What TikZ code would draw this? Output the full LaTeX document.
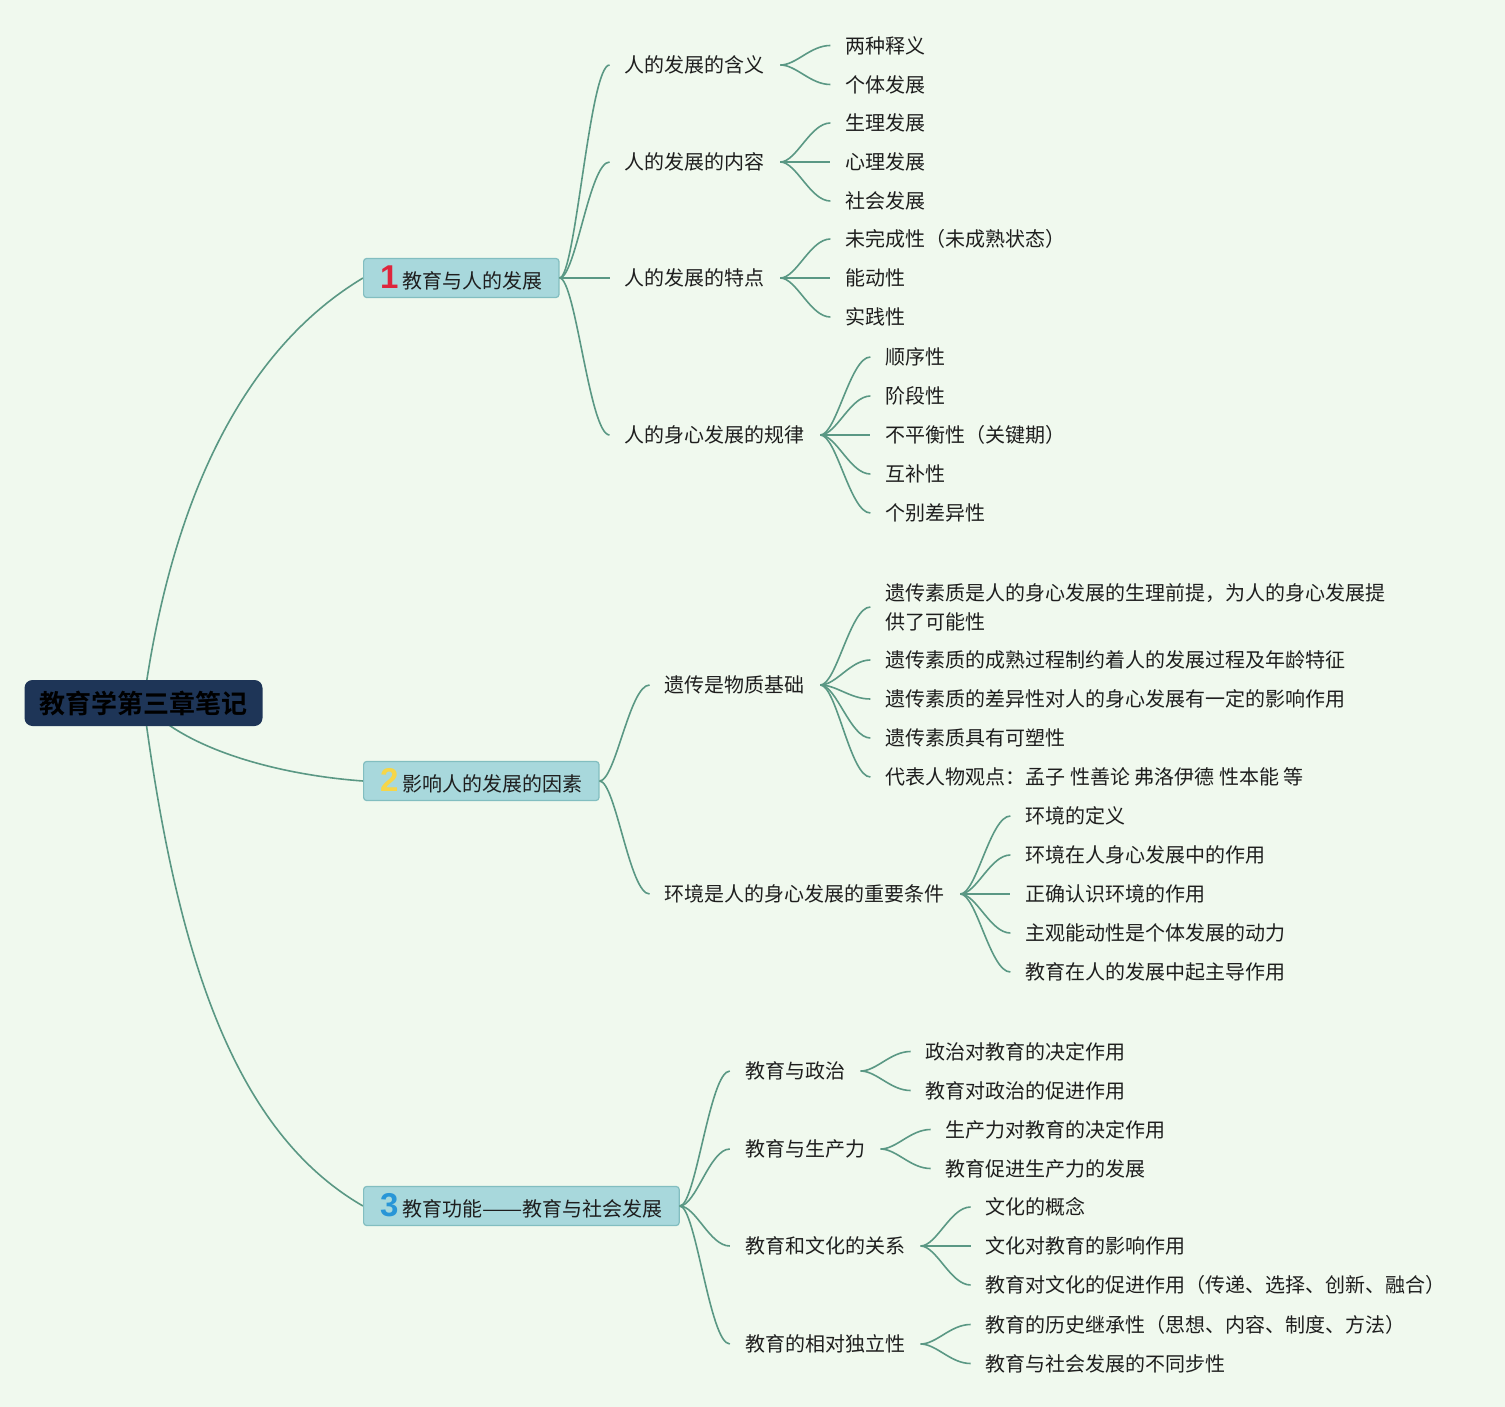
\documentclass[tikz,border=0pt]{standalone}
\usepackage{fontspec}
\usepackage{graphicx}
\setmainfont{Noto Sans CJK SC}[BoldFont={Noto Sans CJK SC Bold}]
\newfontfamily\numfont{Liberation Sans}
\usetikzlibrary{positioning, backgrounds}

\definecolor{bgc}{RGB}{240,249,238}
\definecolor{linec}{RGB}{90,152,132}
\definecolor{boxfill}{RGB}{168,216,220}
\definecolor{boxline}{RGB}{130,190,192}
\definecolor{rootfill}{RGB}{30,53,87}
\definecolor{textc}{RGB}{30,30,30}
\definecolor{numred}{RGB}{222,37,60}
\definecolor{numyellow}{RGB}{246,214,72}
\definecolor{numblue}{RGB}{40,150,215}

\newcommand{\numtag}[2]{{\numfont\bfseries\fontsize{16.5pt}{16.5pt}\selectfont\color{#1}#2}\hspace{2pt}}

\begin{document}
\begin{tikzpicture}[
    x=0.5pt, y=-0.5pt,
    rootbox/.style={rectangle, rounded corners=4pt, fill=rootfill, text=black, font=\bfseries\fontsize{13pt}{13pt}\selectfont, minimum height=23pt, inner xsep=7.5pt},
    mainbox/.style={rectangle, rounded corners=1.5pt, draw=boxline, line width=0.6pt, fill=boxfill, text=textc, minimum height=19.5pt, inner xsep=8.25pt, inner ysep=0pt, font=\fontsize{10pt}{12pt}\selectfont},
    topic/.style={inner xsep=7.5pt, inner ysep=1pt, text=textc, align=left, font=\fontsize{10pt}{14.5pt}\selectfont},
    link/.style={draw=linec, line width=0.8pt, out=0, in=180, out distance=8pt, in distance=10pt},
    trunk/.style={draw=linec, line width=0.8pt}
]

\path[use as bounding box] (0,0) rectangle (1505,1407);

% Root and main branches
\node[rootbox] (root) at (143.5,703) {教育学第三章笔记};
\node[mainbox, anchor=west] (devel) at (363,278) {\numtag{numred}{1}教育与人的发展};
\node[mainbox, anchor=west] (factor) at (363,781) {\numtag{numyellow}{2}影响人的发展的因素};
\node[mainbox, anchor=west] (social) at (363,1206) {\numtag{numblue}{3}教育功能\scalebox{1.2}[1]{——}教育与社会发展};

% Branch 1: 教育与人的发展
\node[topic, right=25pt of devel, yshift=106.5pt] (meaning) {人的发展的含义};
\node[topic, right=25pt of devel, yshift=58pt] (content) {人的发展的内容};
\node[topic, right=25pt of devel] (feature) {人的发展的特点};
\node[topic, right=25pt of devel, yshift=-78.5pt] (law) {人的身心发展的规律};

\node[topic, right=25pt of meaning, yshift=9.75pt] (mean1) {两种释义};
\node[topic, right=25pt of meaning, yshift=-9.75pt] (mean2) {个体发展};

\node[topic, right=25pt of content, yshift=19.5pt] (cont1) {生理发展};
\node[topic, right=25pt of content] (cont2) {心理发展};
\node[topic, right=25pt of content, yshift=-19.5pt] (cont3) {社会发展};

\node[topic, right=25pt of feature, yshift=19.5pt] (feat1) {未完成性（未成熟状态）};
\node[topic, right=25pt of feature] (feat2) {能动性};
\node[topic, right=25pt of feature, yshift=-19.5pt] (feat3) {实践性};

\node[topic, right=25pt of law, yshift=39pt] (law1) {顺序性};
\node[topic, right=25pt of law, yshift=19.5pt] (law2) {阶段性};
\node[topic, right=25pt of law] (law3) {不平衡性（关键期）};
\node[topic, right=25pt of law, yshift=-19.5pt] (law4) {互补性};
\node[topic, right=25pt of law, yshift=-39pt] (law5) {个别差异性};

% Branch 2: 影响人的发展的因素
\node[topic, right=25pt of factor, yshift=48pt] (heredity) {遗传是物质基础};
\node[topic, right=25pt of factor, yshift=-56.5pt] (environ) {环境是人的身心发展的重要条件};

\node[topic, right=25pt of heredity, yshift=39pt] (her1) {遗传素质是人的身心发展的生理前提，为人的身心发展提\\供了可能性};
\node[topic, right=25pt of heredity, yshift=12.5pt] (her2) {遗传素质的成熟过程制约着人的发展过程及年龄特征};
\node[topic, right=25pt of heredity, yshift=-7pt] (her3) {遗传素质的差异性对人的身心发展有一定的影响作用};
\node[topic, right=25pt of heredity, yshift=-26.5pt] (her4) {遗传素质具有可塑性};
\node[topic, right=25pt of heredity, yshift=-46pt] (her5) {代表人物观点：孟子 性善论 弗洛伊德 性本能 等};

\node[topic, right=25pt of environ, yshift=39pt] (env1) {环境的定义};
\node[topic, right=25pt of environ, yshift=19.5pt] (env2) {环境在人身心发展中的作用};
\node[topic, right=25pt of environ] (env3) {正确认识环境的作用};
\node[topic, right=25pt of environ, yshift=-19.5pt] (env4) {主观能动性是个体发展的动力};
\node[topic, right=25pt of environ, yshift=-39pt] (env5) {教育在人的发展中起主导作用};

% Branch 3: 教育功能
\node[topic, right=25pt of social, yshift=67.5pt] (politics) {教育与政治};
\node[topic, right=25pt of social, yshift=28.5pt] (product) {教育与生产力};
\node[topic, right=25pt of social, yshift=-20pt] (culture) {教育和文化的关系};
\node[topic, right=25pt of social, yshift=-69pt] (indep) {教育的相对独立性};

\node[topic, right=25pt of politics, yshift=9.75pt] (pol1) {政治对教育的决定作用};
\node[topic, right=25pt of politics, yshift=-9.75pt] (pol2) {教育对政治的促进作用};

\node[topic, right=25pt of product, yshift=9.75pt] (prod1) {生产力对教育的决定作用};
\node[topic, right=25pt of product, yshift=-9.75pt] (prod2) {教育促进生产力的发展};

\node[topic, right=25pt of culture, yshift=19.5pt] (cult1) {文化的概念};
\node[topic, right=25pt of culture] (cult2) {文化对教育的影响作用};
\node[topic, right=25pt of culture, yshift=-19.5pt] (cult3) {教育对文化的促进作用（传递、选择、创新、融合）};

\node[topic, right=25pt of indep, yshift=9.75pt] (ind1) {教育的历史继承性（思想、内容、制度、方法）};
\node[topic, right=25pt of indep, yshift=-9.75pt] (ind2) {教育与社会发展的不同步性};

% Connectors
\begin{scope}[on background layer]
    \fill[bgc] (0,0) rectangle (1505,1407);
    \draw[trunk] (root.center) .. controls (171,500) and (243,350) .. (devel.west);
    \draw[trunk] (root.center) .. controls (185,750) and (280,775) .. (factor.west);
    \draw[trunk] (root.center) .. controls (176,953) and (233,1131) .. (social.west);
\end{scope}

\draw[link] (devel.east) to (meaning.west);
\draw[link] (devel.east) to (content.west);
\draw[link] (devel.east) to (feature.west);
\draw[link] (devel.east) to (law.west);

\draw[link] (meaning.east) to (mean1.west);
\draw[link] (meaning.east) to (mean2.west);
\draw[link] (content.east) to (cont1.west);
\draw[link] (content.east) to (cont2.west);
\draw[link] (content.east) to (cont3.west);
\draw[link] (feature.east) to (feat1.west);
\draw[link] (feature.east) to (feat2.west);
\draw[link] (feature.east) to (feat3.west);
\draw[link] (law.east) to (law1.west);
\draw[link] (law.east) to (law2.west);
\draw[link] (law.east) to (law3.west);
\draw[link] (law.east) to (law4.west);
\draw[link] (law.east) to (law5.west);

\draw[link] (factor.east) to (heredity.west);
\draw[link] (factor.east) to (environ.west);

\draw[link] (heredity.east) to (her1.west);
\draw[link] (heredity.east) to (her2.west);
\draw[link] (heredity.east) to (her3.west);
\draw[link] (heredity.east) to (her4.west);
\draw[link] (heredity.east) to (her5.west);
\draw[link] (environ.east) to (env1.west);
\draw[link] (environ.east) to (env2.west);
\draw[link] (environ.east) to (env3.west);
\draw[link] (environ.east) to (env4.west);
\draw[link] (environ.east) to (env5.west);

\draw[link] (social.east) to (politics.west);
\draw[link] (social.east) to (product.west);
\draw[link] (social.east) to (culture.west);
\draw[link] (social.east) to (indep.west);

\draw[link] (politics.east) to (pol1.west);
\draw[link] (politics.east) to (pol2.west);
\draw[link] (product.east) to (prod1.west);
\draw[link] (product.east) to (prod2.west);
\draw[link] (culture.east) to (cult1.west);
\draw[link] (culture.east) to (cult2.west);
\draw[link] (culture.east) to (cult3.west);
\draw[link] (indep.east) to (ind1.west);
\draw[link] (indep.east) to (ind2.west);

\end{tikzpicture}
\end{document}
